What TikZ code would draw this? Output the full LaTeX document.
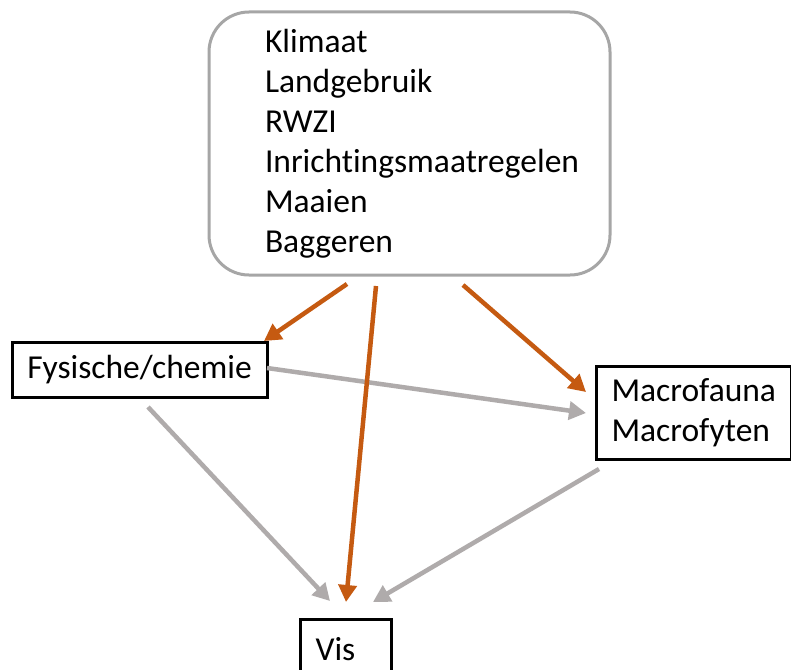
\documentclass[tikz,border=0pt]{standalone}
\usepackage{fontspec}
\setmainfont{Carlito}[Ligatures=NoCommon]
\usetikzlibrary{arrows.meta}
\definecolor{arrorange}{HTML}{C55A11}
\definecolor{arrgray}{HTML}{AFABAB}
\definecolor{boxgray}{HTML}{A6A6A6}
\begin{document}
\begin{tikzpicture}[x=1pt,y=-1pt,
  lbl/.style={font=\fontsize{33.5}{40}\selectfont},
  blackbox/.style={draw=black, line width=3pt, lbl, inner ysep=0pt, inner xsep=15pt, align=left},
  orangearrow/.style={draw=arrorange, line width=4.5pt, -{Triangle[length=17pt,width=18pt]}},
  grayarrow/.style={draw=arrgray, line width=4.5pt, -{Triangle[length=17pt,width=18pt]}},
]
\useasboundingbox[fill=white] (0,0) rectangle (791,669);

\node[draw=boxgray, line width=3pt, rounded corners=40pt, minimum width=401pt, minimum height=263pt,
      lbl, inner sep=0pt, text width=289pt, align=left] (top) at (409.5,143.5)
  {Klimaat\\Landgebruik\\RWZI\\Inrichtingsmaatregelen\\Maaien\\Baggeren};

\node[blackbox, minimum width=255pt, minimum height=55pt, align=center, inner xsep=0pt] (fys) at (139.5,369.5) {Fysische/chemie};

\node[blackbox, anchor=north west, text width=165pt, minimum height=93pt] (mac) at (595,365) {Macrofauna\\Macrofyten};

\node[blackbox, anchor=north west, text width=61pt, minimum height=60pt] (vis) at (299,618) {Vis};

\coordinate (o1s) at (347,284); \coordinate (o1e) at (264,341);
\coordinate (o2s) at (376,286); \coordinate (o2e) at (346,602);
\coordinate (o3s) at (463,285); \coordinate (o3e) at (586,392);
\coordinate (g1s) at (267,368); \coordinate (g1e) at (586,413);
\coordinate (g2s) at (148,407); \coordinate (g2e) at (330,601);
\coordinate (g3s) at (599,469); \coordinate (g3e) at (373,602);

\draw[grayarrow] (g1s) -- (g1e);
\draw[grayarrow] (g2s) -- (g2e);
\draw[grayarrow] (g3s) -- (g3e);
\draw[orangearrow] (o1s) -- (o1e);
\draw[orangearrow] (o2s) -- (o2e);
\draw[orangearrow] (o3s) -- (o3e);
\end{tikzpicture}
\end{document}
